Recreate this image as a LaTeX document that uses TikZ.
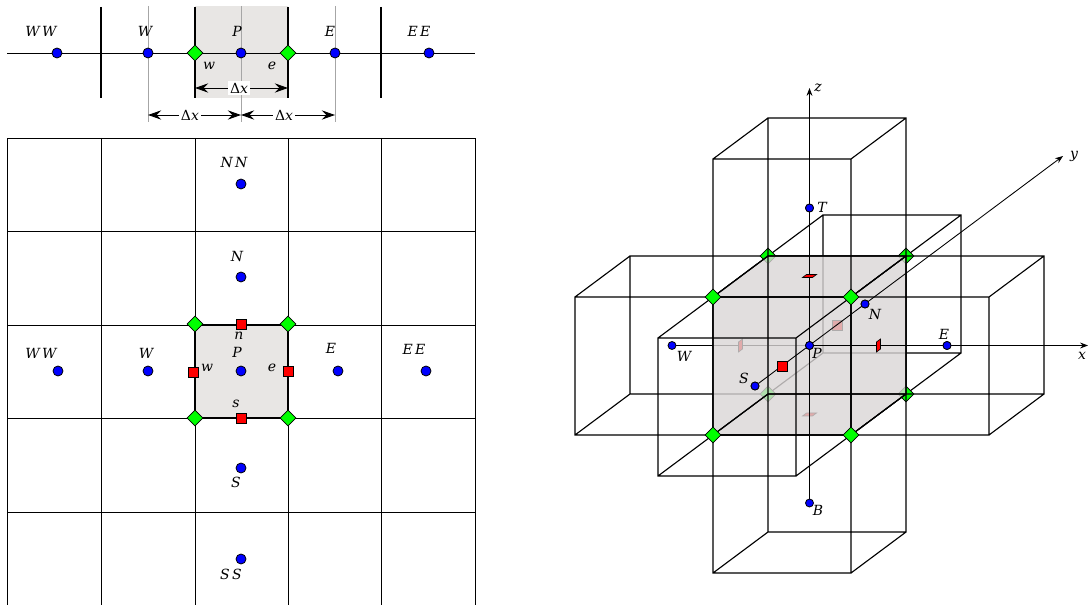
\documentclass[tikz,border=0pt]{standalone}
\usepackage{fontspec}
\setmainfont{DejaVu Serif}
\usepackage{xcolor}
\usetikzlibrary{
	arrows.meta,
	shapes.geometric
}
\definecolor{cellgray}{RGB}{232,230,228}
\definecolor{shadegray}{RGB}{218,214,214}

\begin{document}
\begin{tikzpicture}[
			x=0.75pt,y=-0.75pt,
			>=Stealth,
			blue dot/.style={circle,draw,fill=blue,line width=0.6pt,inner sep=0pt,minimum size=7.5pt},
			small dot/.style={circle,draw,fill=blue,line width=0.6pt,inner sep=0pt,minimum size=6pt},
			green mark/.style={diamond,draw,fill=green,line width=0.6pt,inner sep=0pt,minimum size=12pt,aspect=1},
			red mark/.style={rectangle,draw,fill=red,line width=0.6pt,inner sep=0pt,minimum size=7.5pt},
			face mark/.style={draw,fill=red,line width=0.5pt},
			label/.style={font=\itshape\fontsize{10.5}{12}\selectfont,inner sep=0pt},
			gridline/.style={line width=0.65pt},
			cubeline/.style={line width=0.85pt},
			thin line/.style={line width=0.65pt},
			wall/.style={line width=1.8pt},
			guide/.style={line width=0.6pt,black!35},
			span/.style={line width=0.7pt,{Stealth[length=10pt,width=7pt,inset=3.5pt]}-{Stealth[length=10pt,width=7pt,inset=3.5pt]}},
			span label/.style={label,fill=white,inner xsep=1.5pt,inner ysep=1.5pt}
			]
			\useasboundingbox (0,0) rectangle (1088,605);
			
			% One-dimensional stencil
			\fill[cellgray] (195,6) rectangle (288,98);
			\foreach \i in {148,241,335}
			{
				\draw[guide] (\i,6)--(\i,122);
			}
			\foreach \i in {101,195,288,381}
			{
				\draw[wall] (\i,7)--(\i,98);
			}
			\coordinate (rowL) at (7,53);
			\coordinate (rowR) at (475,53);
			\draw[thin line] (rowL)--(rowR);
			
			\node[blue dot] (aWW) at (57,53){};
			\node[blue dot] (aW) at (148,53){};
			\node[green mark] (aw) at (195,53){};
			\node[blue dot] (aP) at (241,53){};
			\node[green mark] (ae) at (288,53){};
			\node[blue dot] (aE) at (335,53){};
			\node[blue dot] (aEE) at (429,53){};
			
			\node[label] (tWW) at (41,31){W\,W};
			\node[label] (tW) at (145,31){W};
			\node[label] (tP) at (237,31){P};
			\node[label] (tE) at (330,31){E};
			\node[label] (tEE) at (419,31){E\,E};
			\node[label] (tw) at (209,66){w};
			\node[label] (te) at (272,66){e};
			
			\coordinate (d1a) at (195,88);
			\coordinate (d1b) at (288,88);
			\coordinate (d2a) at (148,115);
			\coordinate (d2b) at (241,115);
			\coordinate (d3a) at (241,115);
			\coordinate (d3b) at (335,115);
			\draw[span] (d1a)--(d1b);
			\draw[span] (d2a)--(d2b);
			\draw[span] (d3a)--(d3b);
			\node[span label] (dx1) at (239,88){{\upshape Δ}x};
			\node[span label] (dx2) at (190,115){{\upshape Δ}x};
			\node[span label] (dx3) at (284,115){{\upshape Δ}x};
			
			% Two-dimensional stencil
			\fill[cellgray] (195,325) rectangle (288,418);
			\draw[gridline] (7,605)--(7,138)--(475,138)--(475,605);
			\foreach \i in {101,195,288,381}
			{
				\draw[gridline] (\i,138)--(\i,605);
			}
			\foreach \j in {231,325,418,512}
			{
				\draw[gridline] (7,\j)--(475,\j);
			}
			\draw[line width=0.9pt] (195,325) rectangle (288,418);
			
			\node[green mark] (nw) at (195,324){};
			\node[green mark] (ne) at (288,324){};
			\node[green mark] (sw) at (195,418){};
			\node[green mark] (se) at (288,418){};
			\node[red mark] (fn) at (241,324){};
			\node[red mark] (fw) at (193,372){};
			\node[red mark] (fe) at (288,371){};
			\node[red mark] (fs) at (241,418){};
			
			\node[blue dot] (bWW) at (58,371){};
			\node[blue dot] (bW) at (148,371){};
			\node[blue dot] (bP) at (241,371){};
			\node[blue dot] (bE) at (338,371){};
			\node[blue dot] (bEE) at (426,371){};
			\node[blue dot] (bNN) at (241,184){};
			\node[blue dot] (bN) at (241,277){};
			\node[blue dot] (bS) at (241,468){};
			\node[blue dot] (bSS) at (241,559){};
			
			\node[label] (lWW) at (41,353){W\,W};
			\node[label] (lW) at (146,353){W};
			\node[label] (lP) at (237,352){P};
			\node[label] (lE) at (331,348){E};
			\node[label] (lEE) at (414,349){E\,E};
			\node[label] (lNN) at (234,162){N\,N};
			\node[label] (lN) at (237,256){N};
			\node[label] (lS) at (236,482){S};
			\node[label] (lSS) at (231,574){S\,S};
			\node[label] (ln) at (239,336){n};
			\node[label] (lw) at (207,368){w};
			\node[label] (le) at (272,368){e};
			\node[label] (ls) at (236,404){s};
			
			% Three-dimensional stencil: what lies behind the shaded cell
			\foreach \cx/\cy in {575/297,768/256}
			{
				\draw[cubeline] (\cx,\cy) rectangle +(138,138)
				(\cx+55,\cy-41) rectangle +(138,138)
				(\cx,\cy)--+(55,-41)
				(\cx+138,\cy)--+(55,-41)
				(\cx,\cy+138)--+(55,-41)
				(\cx+138,\cy+138)--+(55,-41);
			}
			\node[small dot] (W) at (672,345.5){};
			\node[coordinate] (P0) at (809.5,345.5){};
			\draw[thin line] (W)--(P0);
			\draw[face mark] (740.5,345.5) ++(-2,6.5) -- ++(0,-10) -- ++(4,-3) -- ++(0,10) -- cycle;
			\draw[face mark] (809.5,414.5) ++(-7,1.5) -- ++(10,0) -- ++(4,-3) -- ++(-10,0) -- cycle;
			\node[red mark] (fb) at (837,325){};
			\node[green mark] (c5) at (768,256){};
			\node[green mark] (c6) at (906,256){};
			\node[green mark] (c7) at (768,394){};
			\node[green mark] (c8) at (906,394){};
			
			% Shaded cell
			\fill[shadegray,opacity=0.8] (713,297)--(768,256)--(906,256)--(906,394)--(851,435)--(713,435)--cycle;
			
			% Cells in front of it
			\foreach \cx/\cy in {713/297,713/159,713/435,851/297,658/338}
			{
				\draw[cubeline] (\cx,\cy) rectangle +(138,138)
				(\cx+55,\cy-41) rectangle +(138,138)
				(\cx,\cy)--+(55,-41)
				(\cx+138,\cy)--+(55,-41)
				(\cx,\cy+138)--+(55,-41)
				(\cx+138,\cy+138)--+(55,-41);
			}
			
			% Axes
			\node[small dot] (E) at (947,345.5){};
			\node[small dot] (S) at (755,386){};
			\node[small dot] (N) at (865,304){};
			\node[small dot] (T) at (809.5,208){};
			\node[small dot] (B) at (809.5,503){};
			\node[small dot] (P) at (809.5,345.5){};
			\coordinate (xtip) at (1088,345.5);
			\coordinate (ytip) at (1063,156);
			\coordinate (ztip) at (809.5,88);
			\draw[thin line,->] (P)--(xtip);
			\draw[thin line,->] (S)--(ytip);
			\draw[thin line,->] (B)--(ztip);
			\node[small dot] at (P){};
			\node[small dot] at (S){};
			\node[small dot] at (N){};
			\node[small dot] at (T){};
			\node[small dot] at (E){};
			
			\node[red mark] (ff) at (782,366){};
			\draw[face mark] (809.5,276) ++(-7,1.5) -- ++(10,0) -- ++(4,-3) -- ++(-10,0) -- cycle;
			\draw[face mark] (878.5,345.5) ++(-2,6.5) -- ++(0,-10) -- ++(4,-3) -- ++(0,10) -- cycle;
			\node[green mark] (c1) at (713,297){};
			\node[green mark] (c2) at (851,297){};
			\node[green mark] (c3) at (713,435){};
			\node[green mark] (c4) at (851,435){};
			
			\node[label] (lx) at (1082,356){x};
			\node[label] (ly) at (1074,156){y};
			\node[label] (lz) at (818,88){z};
			\node[label] (mT) at (822,207){T};
			\node[label] (mB) at (818,510){B};
			\node[label] (mN) at (875,314){N};
			\node[label] (mE) at (944,334){E};
			\node[label] (mW) at (684,356){W};
			\node[label] (mS) at (744,378){S};
			\node[label] (mP) at (817,353){P};
			
		\end{tikzpicture}
\end{document}
